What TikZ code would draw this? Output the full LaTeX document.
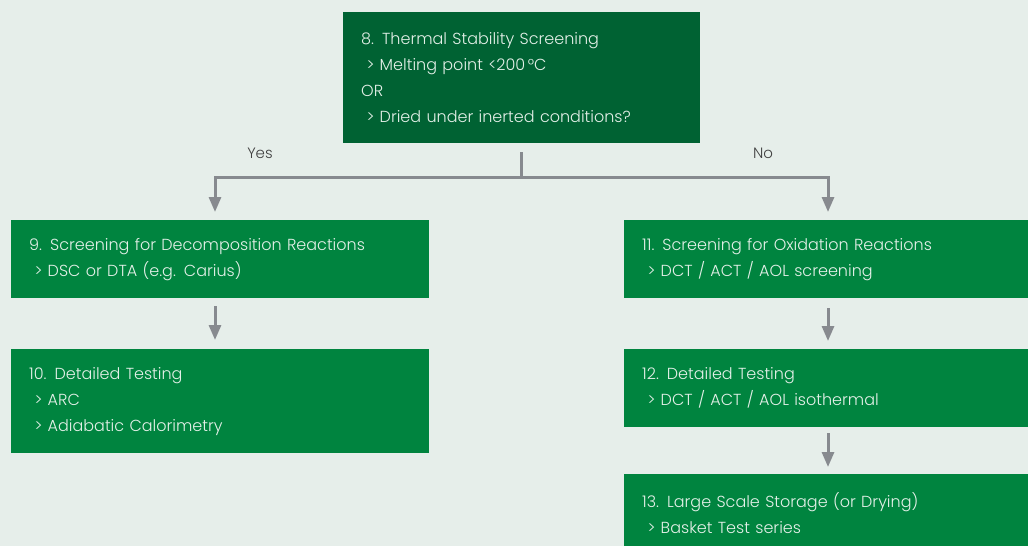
\documentclass[tikz,border=0pt]{standalone}
\usepackage{fontspec}
\setmainfont{Poppins}[UprightFont=* Light]
\usetikzlibrary{positioning, arrows.meta, calc}
\definecolor{bgmint}{HTML}{E6EEEA}
\definecolor{deepgreen}{HTML}{006233}
\definecolor{leafgreen}{HTML}{00843F}
\definecolor{linegray}{HTML}{878A8F}
\definecolor{paletext}{HTML}{E4F0E8}
\tikzset{
    stepbox/.style={fill=leafgreen, text=paletext, anchor=north west, align=left,
        inner xsep=18pt, inner ysep=0pt, font=\fontsize{16}{26}\selectfont},
    flow/.style={draw=linegray, line width=3pt, -{Triangle[length=15pt,width=12pt]}},
    answer/.style={text=black!75, font=\fontsize{15}{18}\selectfont}
}
\begin{document}
\begin{tikzpicture}[x=1pt, y=-1pt]
    \fill[bgmint] (0,0) rectangle (1028,546);
    \clip (0,0) rectangle (1028,546);
    \useasboundingbox (0,0) rectangle (1028,546);

    \node[stepbox, fill=deepgreen, minimum width=357pt, minimum height=131pt, text width=321pt] (s8) at (343,12)
        {8. Thermal Stability Screening\\ \ > Melting point <200\,°C\\OR\\ \ > Dried under inerted conditions?};
    \node[stepbox, minimum width=418pt, minimum height=78pt, text width=382pt] (s9) at (11,220)
        {9. Screening for Decomposition Reactions\\ \ > DSC or DTA (e.g. Carius)};
    \node[stepbox, minimum width=418pt, minimum height=104pt, text width=382pt] (s10) at (11,349)
        {10. Detailed Testing\\ \ > ARC\\ \ > Adiabatic Calorimetry};
    \node[stepbox, minimum width=420pt, minimum height=78pt, text width=384pt] (s11) at (624,220)
        {11. Screening for Oxidation Reactions\\ \ > DCT / ACT / AOL screening};
    \node[stepbox, minimum width=420pt, minimum height=78pt, text width=384pt] (s12) at (624,349)
        {12. Detailed Testing\\ \ > DCT / ACT / AOL isothermal};
    \node[stepbox, minimum width=420pt, minimum height=78pt, text width=384pt] (s13) at (624,474)
        {13. Large Scale Storage (or Drying)\\ \ > Basket Test series};

    % branch point under the question
    \coordinate (split) at (521,177);
    \coordinate (yes) at (215,177);
    \coordinate (no) at (828,177);
    \draw[flow, -, shorten <=9pt] (split |- s8.south) -- (split);
    \draw[flow, -] (yes) -- (no);
    \draw[flow, line cap=rect, shorten >=8pt] (yes) -- (yes |- s9.north);
    \draw[flow, line cap=rect, shorten >=8pt] (no) -- (no |- s11.north);
    \node[answer] (yeslabel) at (260,153) {Yes};
    \node[answer] (nolabel) at (763,153) {No};

    % straight steps
    \draw[flow, shorten <=8pt, shorten >=9pt] (yes |- s9.south) -- (yes |- s10.north);
    \draw[flow, shorten <=10pt, shorten >=8pt] (no |- s11.south) -- (no |- s12.north);
    \draw[flow, shorten <=6pt, shorten >=7pt] (no |- s12.south) -- (no |- s13.north);
\end{tikzpicture}
\end{document}
